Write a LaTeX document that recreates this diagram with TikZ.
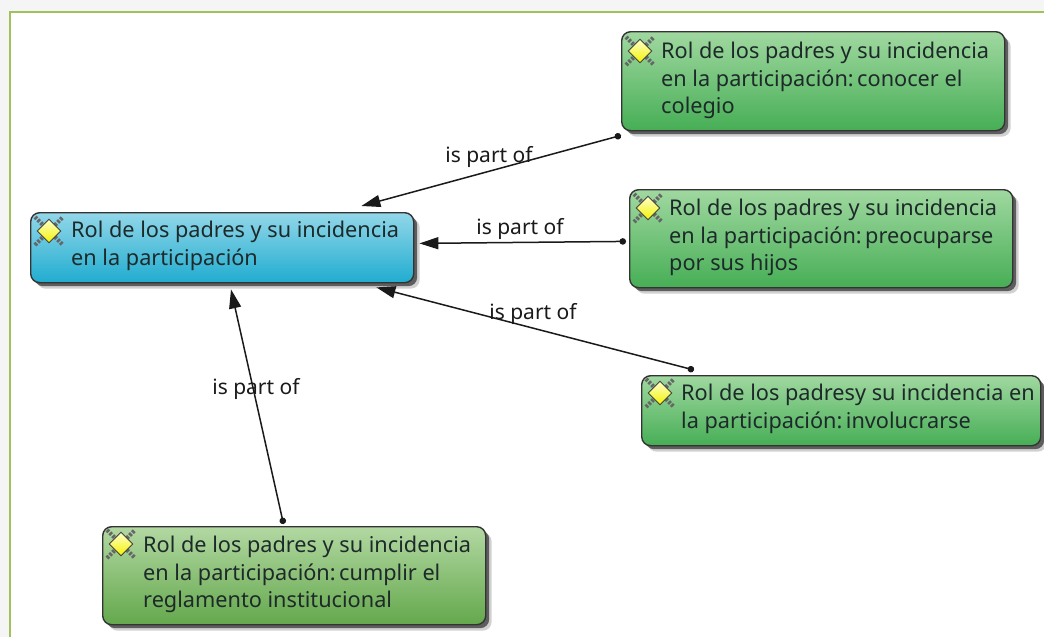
\documentclass[tikz,border=0pt]{standalone}
\usepackage{fontspec}
\setmainfont{Noto Sans}
\usetikzlibrary{arrows.meta,shadows,shapes.geometric}
\definecolor{linkink}{HTML}{1A1A1A}
\definecolor{nodeink}{HTML}{1E2A2A}
\definecolor{framegreen}{HTML}{A0C25C}
\tikzset{
    rolbox/.style={draw=black!80, line width=1.4pt, rounded corners=9pt, anchor=north west, inner sep=0pt,
        drop shadow={shadow xshift=6pt, shadow yshift=-6pt, fill=black, opacity=.18},
        drop shadow={shadow xshift=3.5pt, shadow yshift=-3.5pt, fill=black, opacity=.55}},
    rootbox/.style={rolbox, top color={rgb,255:red,146;green,215;blue,233}, bottom color={rgb,255:red,32;green,172;blue,208}},
    greenbox/.style={rolbox, top color={rgb,255:red,160;green,216;blue,160}, bottom color={rgb,255:red,70;green,174;blue,85}},
    olivebox/.style={rolbox, top color={rgb,255:red,178;green,216;blue,162}, bottom color={rgb,255:red,100;green,168;blue,76}},
    roltext/.style={anchor=north west, align=left, inner sep=0pt, text=nodeink, font=\fontsize{21.7}{27.6}\selectfont},
    relabel/.style={text=linkink, font=\fontsize{21}{24}\selectfont},
    partof/.style={draw=linkink, line width=1.5pt, {Circle[length=6.5pt]}-{Triangle[length=19pt,width=12pt]}},
    gem/.style={diamond, draw=black!75, line width=.9pt, inner sep=0pt, minimum size=24pt, top color=yellow!20!white, bottom color=yellow!95!black}
}
\newcommand{\gemicon}[1]{%
    \draw[black!60, line width=4pt, dash pattern=on 2.5pt off 1.5pt] ([shift={(-14,-14)}]#1) -- ([shift={(14,14)}]#1);
    \draw[black!60, line width=4pt, dash pattern=on 2.5pt off 1.5pt] ([shift={(-14,14)}]#1) -- ([shift={(14,-14)}]#1);
    \node[gem] at (#1) {};
}
\newcommand{\tightcolon}{:\hspace{-4pt} }
\begin{document}
\begin{tikzpicture}[x=1pt,y=-1pt]
    \useasboundingbox (0,0) rectangle (1044,637);
    \fill[black!4] (0,0) rectangle (1044,637);
    \fill[white] (10,12) rectangle (1044,637);
    \draw[framegreen, line width=2pt] (10,637) -- (10,12) -- (1044,12);

    % boxes
    \node[rootbox, minimum width=383pt, minimum height=70pt] (root) at (30,212) {};
    \node[greenbox, minimum width=383pt, minimum height=99pt] (conocer) at (621,31) {};
    \node[greenbox, minimum width=383pt, minimum height=98pt] (preocuparse) at (629,189) {};
    \node[greenbox, minimum width=399pt, minimum height=70pt] (involucrarse) at (641,375) {};
    \node[olivebox, minimum width=383pt, minimum height=98pt] (cumplir) at (102,526) {};

    % texts
    \node[roltext] (roottext) at (71,221) {Rol de los padres y su incidencia\\en la participación};
    \node[roltext] (conocertext) at (661,42) {Rol de los padres y su incidencia\\en la participación\tightcolon conocer el\\colegio};
    \node[roltext] (preocupartext) at (669,199) {Rol de los padres y su incidencia\\en la participación\tightcolon preocuparse\\por sus hijos};
    \node[roltext] (involucrartext) at (681,384) {Rol de los padresy su incidencia en\\la participación\tightcolon involucrarse};
    \node[roltext] (cumplirtext) at (143,536) {Rol de los padres y su incidencia\\en la participación\tightcolon cumplir el\\reglamento institucional};

    \gemicon{49,231}
    \gemicon{640,51}
    \gemicon{648,208}
    \gemicon{660,393}
    \gemicon{121,544}

    % links
    \draw[partof] ([shift={(0,4)}]conocer.south west) -- ([shift={(-53,-6)}]root.north east);
    \draw[partof] ([shift={(-3,-47)}]preocuparse.south west) -- ([shift={(5,-40)}]root.south east);
    \draw[partof] ([shift={(53,-5)}]involucrarse.north west) -- ([shift={(-38,4)}]root.south east);
    \draw[partof] ([shift={(181.5,-2)}]cumplir.north west) -- ([shift={(201,6)}]root.south west);

    \node[relabel] (labela) at (489,157) {is part of};
    \node[relabel] (labelb) at (520,229) {is part of};
    \node[relabel] (labelc) at (533,314) {is part of};
    \node[relabel] (labeld) at (256,389) {is part of};
\end{tikzpicture}
\end{document}
